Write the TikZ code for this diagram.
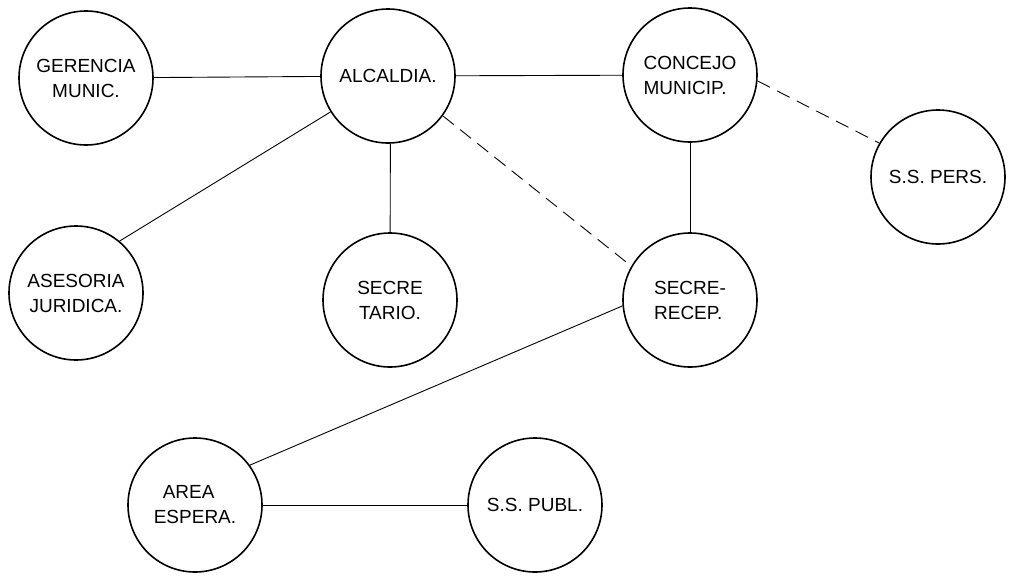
\documentclass[tikz,border=0pt]{standalone}
\usepackage{fontspec}
\setmainfont{Liberation Sans}
\begin{document}
\begin{tikzpicture}[x=1pt,y=-1pt,
  unit/.style={draw, circle, line width=1.6pt, minimum size=134pt, inner sep=0pt,
    font=\fontsize{19}{25}\selectfont, align=center},
  link/.style={line width=0.9pt},
  dlink/.style={line width=0.9pt, dash pattern=on 14pt off 8pt}]
\useasboundingbox (0,0) rectangle (1021,576);
\node[unit] (ger) at (86,78) {GERENCIA\\MUNIC.};
\node[unit] (alc) at (388,76) {ALCALDIA.};
\node[unit, align=left] (con) at (690,75) {CONCEJO\\MUNICIP.};
\node[unit] (pers) at (938,177) {S.S. PERS.};
\node[unit] (ase) at (76,293) {ASESORIA\\JURIDICA.};
\node[unit] (sec) at (390,300) {SECRE\\TARIO.};
\node[unit, align=left] (rec) at (690,300) {SECRE-\\RECEP.};
\node[unit, align=left] (are) at (195,505) {\hspace*{9pt}AREA\\ESPERA.};
\node[unit] (pub) at (535,505) {S.S. PUBL.};
\draw[link] (ger) -- (alc);
\draw[link] (alc) -- (con);
\draw[link] (alc.-88) -- (sec);
\draw[link] (con) -- (rec);
\draw[link] (alc.212) -- (ase.50);
\draw[dlink] (alc.-36) -- (rec.150);
\draw[dlink] (con.-5) -- (pers.150);
\draw[link] (rec.185) -- (are.36);
\draw[link] (are) -- (pub);
\end{tikzpicture}
\end{document}
